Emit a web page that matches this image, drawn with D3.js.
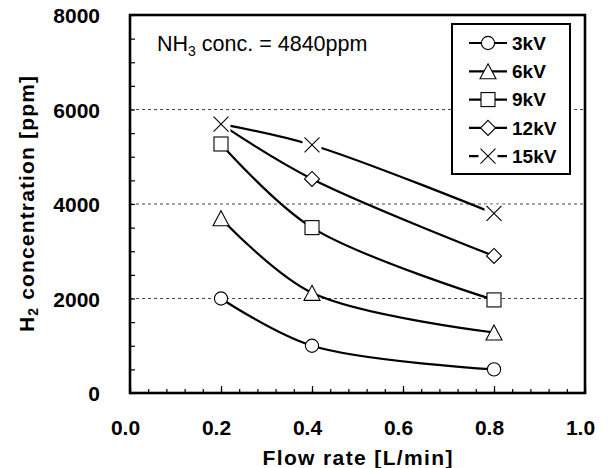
<!DOCTYPE html>
<html><head><meta charset="utf-8">
<script src="https://cdn.jsdelivr.net/npm/d3@7"></script>
<style>body{margin:0;background:#fff}svg{display:block}</style>
</head><body>
<script>
const flowRates = [0.2, 0.4, 0.8];
const seriesNames = ["3kV", "6kV", "9kV", "12kV", "15kV"];
const values3kV  = [2000, 1000, 500];
const values6kV  = [3700, 2120, 1280];
const values9kV  = [5270, 3500, 1970];
const values12kV = [5690, 4530, 2900];
const values15kV = [5690, 5250, 3800];
const markerTypes = ["circle", "triangle", "square", "diamond", "cross"];
const xTicks = [0, 0.2, 0.4, 0.6, 0.8, 1.0];
const yTicks = [0, 2000, 4000, 6000, 8000];
const gridValues = [2000, 4000, 6000];

const allValues = [values3kV, values6kV, values9kV, values12kV, values15kV];
const W = 608, H = 468;
const m = {l: 130, r: 585, t: 15, b: 393};
const svg = d3.select("body").append("svg").attr("width", W).attr("height", H);
const x = d3.scaleLinear().domain([0, 1]).range([m.l, m.r]);
const y = d3.scaleLinear().domain([0, 8000]).range([m.b, m.t]);
const tickFont = "'Liberation Sans', Arial, sans-serif";

// gridlines
svg.append("g").selectAll("line").data(gridValues).join("line")
  .attr("x1", m.l).attr("x2", m.r).attr("y1", d => y(d)).attr("y2", d => y(d))
  .attr("stroke", "#444").attr("stroke-width", 1).attr("stroke-dasharray", "3,3");

// minor / major ticks (inward)
const gx = svg.append("g").attr("transform", `translate(0,${m.b})`)
  .call(d3.axisBottom(x).tickValues(d3.range(0, 1.0001, 0.04)).tickSize(-4).tickFormat(""));
gx.select(".domain").remove();
gx.selectAll("line").attr("stroke", "#000").attr("stroke-width", 1.2);
const gx2 = svg.append("g").attr("transform", `translate(0,${m.b})`)
  .call(d3.axisBottom(x).tickValues(xTicks).tickSize(-7).tickPadding(0).tickFormat(d3.format(".1f")));
gx2.select(".domain").remove();
gx2.selectAll("line").attr("stroke", "#000").attr("stroke-width", 1.2);
gx2.selectAll("text").attr("font-family", tickFont).attr("font-weight", "bold").attr("font-size", 21)
  .attr("fill", "#000").attr("y", 42).attr("dy", 0).attr("dx", -5);

const gy = svg.append("g").attr("transform", `translate(${m.l},0)`)
  .call(d3.axisLeft(y).tickValues(d3.range(0, 8001, 500)).tickSize(-5).tickFormat(""));
gy.select(".domain").remove();
gy.selectAll("line").attr("stroke", "#000").attr("stroke-width", 1.2);
const gy2 = svg.append("g").attr("transform", `translate(${m.l},0)`)
  .call(d3.axisLeft(y).tickValues(yTicks).tickSize(0).tickPadding(30).tickFormat(d3.format("d")));
gy2.select(".domain").remove();
gy2.selectAll("text").attr("font-family", tickFont).attr("font-weight", "bold").attr("font-size", 21)
  .attr("fill", "#000").attr("dy", "0.36em");

// curves
const line = d3.line().x(d => x(d[0])).y(d => y(d[1])).curve(d3.curveCatmullRom.alpha(0.5));
allValues.forEach((vals) => {
  const pts = flowRates.map((f, i) => [f, vals[i]]);
  svg.append("path").attr("d", line(pts)).attr("fill", "none")
    .attr("stroke", "#000").attr("stroke-width", 2.2);
});

function drawMarker(g, type, cx, cy) {
  const sw = 1.1;
  if (type === "circle") {
    g.append("circle").attr("cx", cx).attr("cy", cy).attr("r", 6.6)
      .attr("fill", "#fff").attr("stroke", "#000").attr("stroke-width", sw);
  } else if (type === "triangle") {
    g.append("path").attr("d", `M${cx},${cy - 7.5}L${cx + 8},${cy + 7.5}L${cx - 8},${cy + 7.5}Z`)
      .attr("fill", "#fff").attr("stroke", "#000").attr("stroke-width", sw);
  } else if (type === "square") {
    g.append("rect").attr("x", cx - 7).attr("y", cy - 7).attr("width", 14).attr("height", 14)
      .attr("fill", "#fff").attr("stroke", "#000").attr("stroke-width", sw);
  } else if (type === "diamond") {
    g.append("path").attr("d", `M${cx},${cy - 7.5}L${cx + 7.5},${cy}L${cx},${cy + 7.5}L${cx - 7.5},${cy}Z`)
      .attr("fill", "#fff").attr("stroke", "#000").attr("stroke-width", sw);
  } else if (type === "cross") {
    g.append("rect").attr("x", cx - 9.5).attr("y", cy - 9).attr("width", 19).attr("height", 18).attr("fill", "#fff");
    g.append("path").attr("d", `M${cx - 7.5},${cy - 7.5}L${cx + 7.5},${cy + 7.5}M${cx + 7.5},${cy - 7.5}L${cx - 7.5},${cy + 7.5}`)
      .attr("fill", "none").attr("stroke", "#000").attr("stroke-width", sw);
  }
}

const mg = svg.append("g");
allValues.forEach((vals, s) => {
  flowRates.forEach((f, i) => drawMarker(mg, markerTypes[s], x(f), y(vals[i])));
});

// frame
svg.append("rect").attr("x", m.l).attr("y", m.t).attr("width", m.r - m.l).attr("height", m.b - m.t)
  .attr("fill", "none").attr("stroke", "#000").attr("stroke-width", 2.6);

// annotation
const ann = svg.append("text").attr("x", 157).attr("y", 51).attr("font-family", tickFont)
  .attr("font-size", 21.5).attr("fill", "#000");
ann.append("tspan").text("NH");
ann.append("tspan").text("3").attr("font-size", 14).attr("dy", 5);
ann.append("tspan").text(" conc. = 4840ppm").attr("dy", -5);

// legend
const lg = svg.append("g");
lg.append("rect").attr("x", 452).attr("y", 24).attr("width", 118).attr("height", 150)
  .attr("fill", "#fff").attr("stroke", "#000").attr("stroke-width", 2);
seriesNames.forEach((name, i) => {
  const cy = 43 + i * 28.3;
  lg.append("line").attr("x1", 469).attr("x2", 507).attr("y1", cy).attr("y2", cy)
    .attr("stroke", "#000").attr("stroke-width", 2.2);
  drawMarker(lg, markerTypes[i], 488, cy);
  lg.append("text").attr("x", 512).attr("y", cy).attr("dy", "0.36em").text(name)
    .attr("font-family", tickFont).attr("font-weight", "bold").attr("font-size", 19).attr("fill", "#000");
});

// axis titles
svg.append("text").attr("x", (m.l + m.r) / 2).attr("y", 465).attr("text-anchor", "middle")
  .attr("font-family", tickFont).attr("font-weight", "bold").attr("font-size", 21)
  .attr("textLength", 190).attr("lengthAdjust", "spacing").attr("fill", "#000")
  .text("Flow rate [L/min]");
const yt = svg.append("text").attr("transform", `translate(34,${(m.t + m.b) / 2}) rotate(-90)`)
  .attr("text-anchor", "middle").attr("font-family", tickFont).attr("font-weight", "bold")
  .attr("font-size", 21).attr("textLength", 256).attr("lengthAdjust", "spacing").attr("fill", "#000");
yt.append("tspan").text("H");
yt.append("tspan").text("2").attr("font-size", 14).attr("dy", 4);
yt.append("tspan").text(" concentration [ppm]").attr("dy", -4);
</script>
</body></html>
